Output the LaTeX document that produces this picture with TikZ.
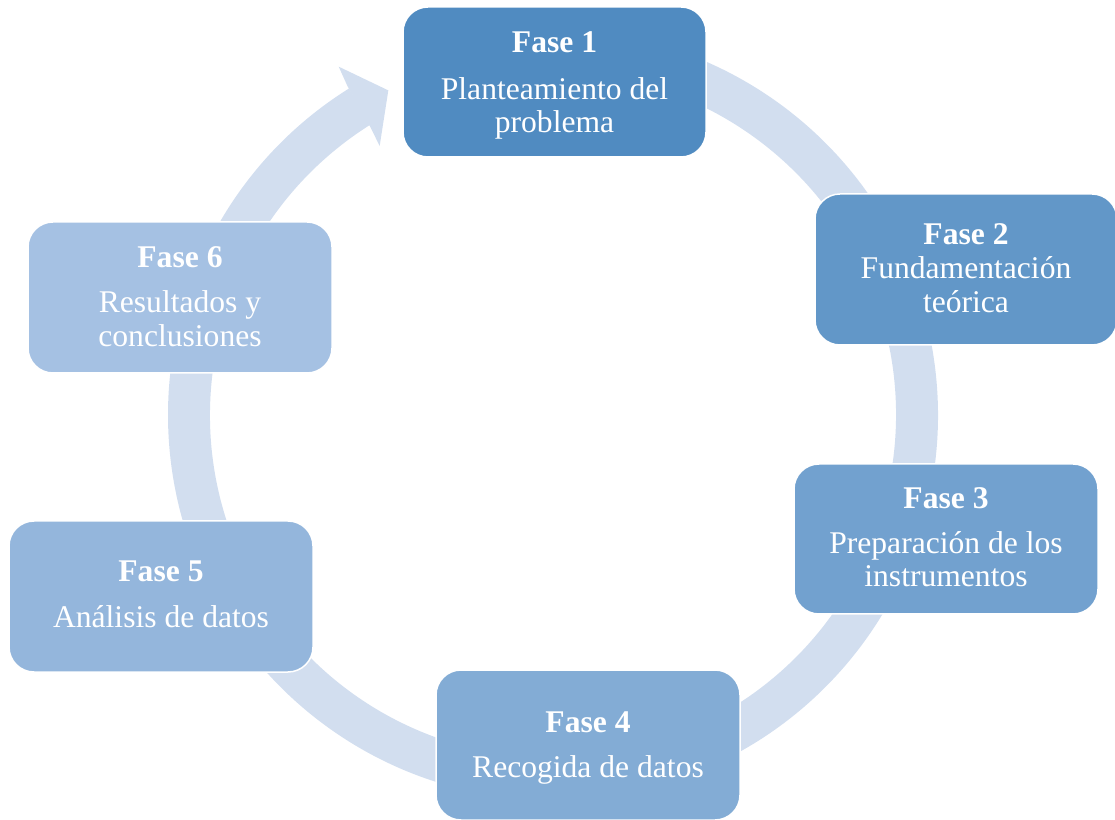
\documentclass[tikz,border=0pt]{standalone}
\usepackage{fontspec}
\setmainfont{Liberation Serif}
\definecolor{ringc}{RGB}{210,222,239}
\definecolor{cA}{RGB}{80,139,193}
\definecolor{cB}{RGB}{98,151,200}
\definecolor{cC}{RGB}{114,161,207}
\definecolor{cD}{RGB}{131,172,213}
\definecolor{cE}{RGB}{148,182,220}
\definecolor{cF}{RGB}{165,193,227}
\begin{document}
\begin{tikzpicture}[x=1pt,y=1pt,
  phase/.style={draw=white, line width=1.5pt, rounded corners=25pt, inner sep=0pt,
                minimum width=304pt, minimum height=150pt},
  ttl/.style={anchor=base, text=white, inner sep=0pt,
              font=\fontsize{31.6}{32}\selectfont\bfseries},
  txt/.style={anchor=base, text=white, inner sep=0pt,
              font=\fontsize{31.6}{32}\selectfont}]
\useasboundingbox (0,0) rectangle (1115,819);
% cycle band with arrowhead
\fill[ringc, shift={(553,404)}]
  (95:385) arc[start angle=95, end angle=-238, radius=385]
  -- (122:343) arc[start angle=122, end angle=455, radius=343] -- cycle;
\fill[ringc, shift={(553,404)}]
  (121.6:409) -- (116.9:364) -- (122.8:320) -- (122.4:340) -- (122:388) -- cycle;
% boxes
\node[phase, fill=cA, minimum width=303pt] (b1) at (554.5,737) {};
\node[phase, fill=cB, minimum width=302pt, minimum height=151pt] (b2) at (966,549.5) {};
\node[phase, fill=cC] (b3) at (946,280) {};
\node[phase, fill=cD] (b4) at (588,74) {};
\node[phase, fill=cE, minimum height=151pt] (b5) at (161,222.5) {};
\node[phase, fill=cF, minimum height=151pt] (b6) at (180,521.5) {};
% texts
\node[ttl] (t1a) at (554.5,766) {Fase 1};
\node[txt] (t1b) at (554.5,719) {Planteamiento del};
\node[txt] (t1c) at (554.5,686) {problema};
\node[ttl] (t2a) at (966,574) {Fase 2};
\node[txt] (t2b) at (966,540) {Fundamentación};
\node[txt] (t2c) at (966,506) {teórica};
\node[ttl] (t3a) at (946,310) {Fase 3};
\node[txt] (t3b) at (946,265) {Preparación de los};
\node[txt] (t3c) at (946,232) {instrumentos};
\node[ttl] (t4a) at (588,87) {Fase 4};
\node[txt] (t4b) at (588,42) {Recogida de datos};
\node[ttl] (t5a) at (161,237) {Fase 5};
\node[txt] (t5b) at (161,191) {Análisis de datos};
\node[ttl] (t6a) at (180,551) {Fase 6};
\node[txt] (t6b) at (180,506) {Resultados y};
\node[txt] (t6c) at (180,472) {conclusiones};
\end{tikzpicture}
\end{document}
